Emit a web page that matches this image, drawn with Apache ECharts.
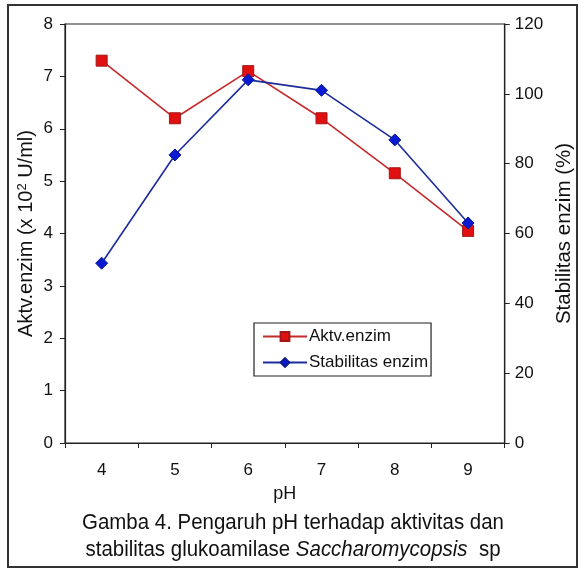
<!DOCTYPE html>
<html><head><meta charset="utf-8">
<script src="https://cdn.jsdelivr.net/npm/echarts@6/dist/echarts.min.js"></script>
<style>html,body{margin:0;padding:0;background:#fff}#c{width:583px;height:572px}</style>
</head><body><div id="c"></div>
<script>
const categories = ['4','5','6','7','8','9'];
const aktvEnzim = [7.3, 6.2, 7.1, 6.2, 5.15, 4.05];
const stabilitasEnzim = [51.5, 82.5, 104, 101, 86.8, 63];
const captionLine1 = 'Gamba 4. Pengaruh pH terhadap aktivitas dan';
const captionLine2 = 'stabilitas glukoamilase {i|Saccharomycopsis}  sp';

const font = 'Liberation Sans, Arial, sans-serif';
const chart = echarts.init(document.getElementById('c'));
chart.setOption({
  backgroundColor: '#fff',
  animation: false,
  graphic: [
    { type: 'rect', shape: { x: 8, y: 5, width: 569, height: 562 }, style: { fill: 'none', stroke: '#333', lineWidth: 2 }, silent: true },
    { type: 'text', x: 293, y: 523, scaleX: 0.93, silent: true,
      style: { text: captionLine1, font: '22px ' + font, fill: '#111', textAlign: 'center', textVerticalAlign: 'middle' } },
    { type: 'text', x: 293, y: 550, scaleX: 0.93, silent: true,
      style: { text: captionLine2, font: '22px ' + font, fill: '#111', textAlign: 'center', textVerticalAlign: 'middle',
        rich: { i: { fontFamily: font, fontSize: 22, fontStyle: 'italic', fill: '#111' } } } }
  ],
  grid: { left: 65, right: 76, top: 24, bottom: 129, show: true, borderColor: '#222', borderWidth: 1.2 },
  legend: {
    left: 254, top: 323, orient: 'vertical', itemGap: 9, itemWidth: 44, itemHeight: 11,
    backgroundColor: '#fff', borderColor: '#222', borderWidth: 1.2, padding: [5, 3, 5, 8],
    textStyle: { fontFamily: font, fontSize: 17, color: '#111', padding: [0,0,0,-3] },
    data: ['Aktv.enzim', 'Stabilitas enzim']
  },
  xAxis: {
    type: 'category', data: categories, boundaryGap: true,
    name: 'pH', nameLocation: 'middle', nameGap: 42,
    nameTextStyle: { fontFamily: font, fontSize: 18, color: '#111' },
    axisLine: { lineStyle: { color: '#222', width: 1.2 } },
    axisTick: { show: true, length: 5, lineStyle: { color: '#222' } },
    axisLabel: { fontFamily: font, fontSize: 17, color: '#111', margin: 19 }
  },
  yAxis: [{
    type: 'value', min: 0, max: 8, interval: 1, position: 'left',
    name: 'Aktv.enzim (x 10{s|2} U/ml)', nameLocation: 'middle', nameGap: 28, nameRotate: 90,
    nameMoveOverlap: false,
    nameTextStyle: { fontFamily: font, fontSize: 20, color: '#111',
      rich: { s: { fontFamily: font, fontSize: 13, color: '#111', verticalAlign: 'top', padding: [0,0,8,0] } } },
    axisLine: { show: true, lineStyle: { color: '#222', width: 1.2 } },
    axisTick: { show: true, length: 5, lineStyle: { color: '#222' } },
    splitLine: { show: false },
    axisLabel: { fontFamily: font, fontSize: 17, color: '#111', margin: 12 }
  }, {
    type: 'value', min: 0, max: 120, interval: 20, position: 'right',
    name: 'Stabilitas enzim (%)', nameLocation: 'middle', nameGap: 43, nameRotate: 90,
    nameTextStyle: { fontFamily: font, fontSize: 20.5, color: '#111' },
    axisLine: { show: true, lineStyle: { color: '#222', width: 1.2 } },
    axisTick: { show: true, length: 5, lineStyle: { color: '#222' } },
    splitLine: { show: false },
    axisLabel: { fontFamily: font, fontSize: 17, color: '#111', margin: 10 }
  }],
  series: [{
    name: 'Aktv.enzim', type: 'line', yAxisIndex: 0, data: aktvEnzim,
    symbol: 'rect', symbolSize: 11,
    lineStyle: { color: '#c42a2a', width: 1.6 },
    itemStyle: { color: '#e01010', borderColor: '#a01818', borderWidth: 1 }
  }, {
    name: 'Stabilitas enzim', type: 'line', yAxisIndex: 1, data: stabilitasEnzim,
    symbol: 'diamond', symbolSize: 12,
    lineStyle: { color: '#1c2c9a', width: 1.6 },
    itemStyle: { color: '#0a1ad0', borderColor: '#0a1a90', borderWidth: 1 }
  }]
});
</script></body></html>
